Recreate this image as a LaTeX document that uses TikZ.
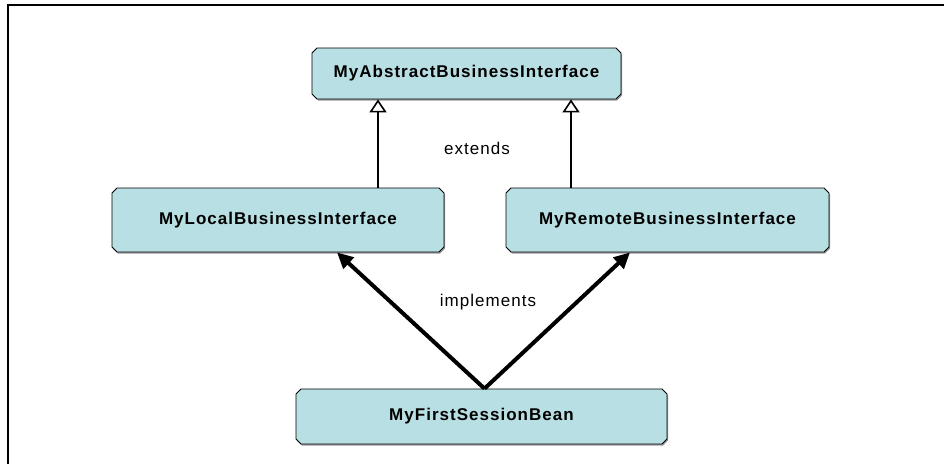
\documentclass[tikz,border=0pt]{standalone}
\usepackage{fontspec}
\setmainfont{Liberation Sans}
\usetikzlibrary{arrows.meta,shapes.misc,shadows}
\begin{document}
\begin{tikzpicture}[x=1pt,y=-1pt,font=\fontsize{17}{20}\selectfont\addfontfeature{LetterSpace=6}]
\definecolor{boxcyan}{RGB}{184,223,227}
\tikzset{
  umlbox/.style={chamfered rectangle,chamfered rectangle sep=2.5pt,
    draw=black,line width=.8pt,fill=boxcyan,font=\fontsize{17}{20}\selectfont\bfseries\addfontfeature{LetterSpace=6},
    drop shadow={shadow xshift=1pt,shadow yshift=-1.5pt,fill=gray!80,opacity=1},inner sep=0pt},
  extendsline/.style={line width=1.6pt,-{Triangle[open,width=17pt,length=13pt,line width=1.6pt]}},
  implementsline/.style={line width=4pt,-{Triangle[width=15pt,length=16pt]}}
}
\useasboundingbox (0,0) rectangle (944,464);
\draw[line width=1.6pt] (8,464)--(8,5)--(944,5);
\node[umlbox,minimum width=309pt,minimum height=51pt] (abstract) at (466.5,73.5) {MyAbstractBusinessInterface};
\node[umlbox,minimum width=332pt,minimum height=64pt] (local) at (278,220) {MyLocalBusinessInterface};
\node[umlbox,minimum width=323pt,minimum height=64pt] (remote) at (667.5,220) {MyRemoteBusinessInterface};
\node[umlbox,minimum width=371pt,minimum height=55pt] (bean) at (481.5,416.5) {MyFirstSessionBean};
\draw[extendsline] ([xshift=100pt]local.north) -- ([xshift=100pt]local.north |- abstract.south);
\draw[extendsline] ([xshift=-96.5pt]remote.north) -- ([xshift=-96.5pt]remote.north |- abstract.south);
\node (extends) at (477,148) {extends};
\draw[implementsline] ([xshift=3pt]bean.north) -- ([xshift=59pt]local.south);
\draw[implementsline] ([xshift=3pt]bean.north) -- ([xshift=-37.5pt]remote.south);
\node (implements) at (488,302) {implements};
\end{tikzpicture}
\end{document}
